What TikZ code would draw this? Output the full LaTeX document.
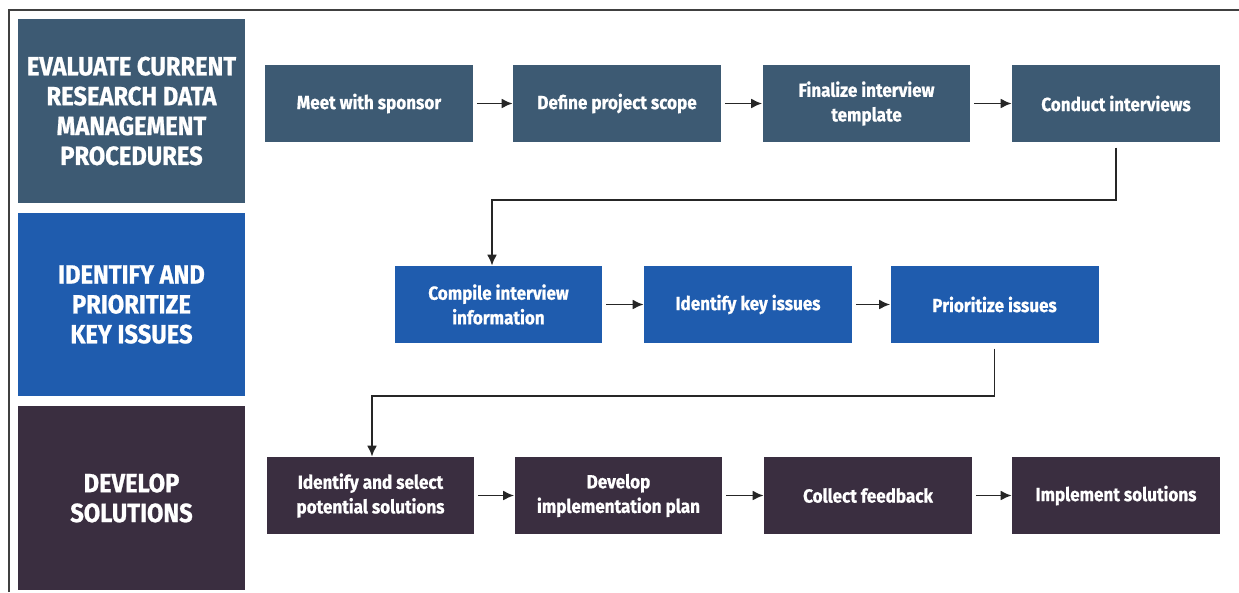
\documentclass[tikz,border=0pt]{standalone}
\usepackage{fontspec}
\setmainfont{Fira Sans}[FakeStretch=0.9, BoldFeatures={FakeBold=0.8}]
\usetikzlibrary{arrows.meta}

\definecolor{slate}{HTML}{3D5A73}
\definecolor{royal}{HTML}{1F5CAE}
\definecolor{plum}{HTML}{3A2E40}

\tikzset{
  stage/.style={fill=#1, minimum width=4.54cm, minimum height=3.68cm, inner sep=0pt,
    align=center, text=white, font=\fontsize{15}{17}\selectfont\bfseries},
  task/.style={fill=#1, minimum width=4.16cm, minimum height=1.54cm, inner sep=0pt,
    align=center, text=white, font=\fontsize{10.8}{14}\selectfont\bfseries},
  arr/.style={-{Latex[length=2.2mm,width=2mm]}, line width=1.1pt, black!85, shorten <=2pt}
}

\begin{document}
\begin{tikzpicture}[x=0.02cm, y=-0.02cm]
  \useasboundingbox (0,0) rectangle (1239,592);

  % Frame
  \draw[line width=1pt, black!75] (9,592) -- (9,10) -- (1239,10);

  % Stages
  \node[stage=slate] (st1) at (131.5,111) {EVALUATE CURRENT\\RESEARCH DATA\\MANAGEMENT\\PROCEDURES};
  \node[stage=royal] (st2) at (131.5,304.5) {IDENTIFY AND\\PRIORITIZE\\KEY ISSUES};
  \node[stage=plum] (st3) at (131.5,498) {DEVELOP\\SOLUTIONS};

  % Row 1
  \node[task=slate] (meet) at (369,103.5) {Meet with sponsor};
  \node[task=slate] (scope) at (617,103.5) {Define project scope};
  \node[task=slate] (templ) at (866.5,103.5) {Finalize interview\\template};
  \node[task=slate] (interv) at (1116,103.5) {Conduct interviews};

  % Row 2
  \node[task=royal] (compile) at (498.5,304.5) {Compile interview\\information};
  \node[task=royal] (keyiss) at (748,304.5) {Identify key issues};
  \node[task=royal] (prio) at (994.5,304.5) {Prioritize issues};

  % Row 3
  \node[task=plum] (select) at (370.5,495.5) {Identify and select\\potential solutions};
  \node[task=plum] (plan) at (618.5,495.5) {Develop\\implementation plan};
  \node[task=plum] (feedb) at (868,495.5) {Collect feedback};
  \node[task=plum] (impl) at (1116,495.5) {Implement solutions};

  % Arrows
  \draw[arr] (meet) -- (scope);
  \draw[arr] (scope) -- (templ);
  \draw[arr] (templ) -- (interv);
  \draw[arr] (compile) -- (keyiss);
  \draw[arr] (keyiss) -- (prio);
  \draw[arr] (select) -- (plan);
  \draw[arr] (plan) -- (feedb);
  \draw[arr] (feedb) -- (impl);

  % Row changes
  \coordinate (bend1) at (492,200);
  \coordinate (bend2) at (372,396);
  \draw[arr, shorten <=3pt] (interv.south) |- (bend1) -- (bend1 |- compile.north);
  \draw[arr, shorten <=3pt] (prio.south) |- (bend2) -- (bend2 |- select.north);
\end{tikzpicture}
\end{document}
